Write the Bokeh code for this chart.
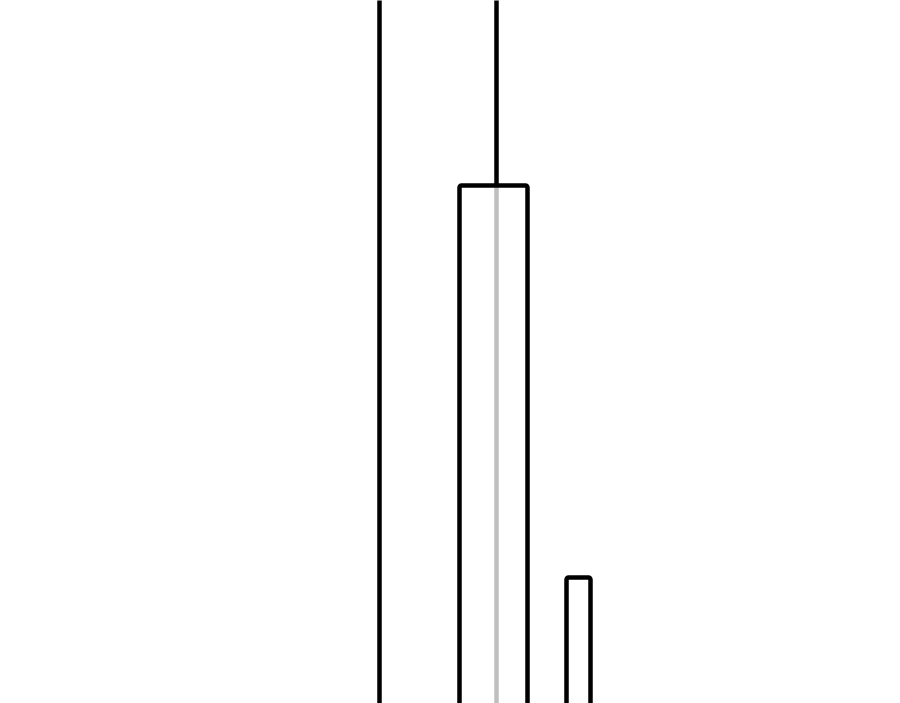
from bokeh.plotting import figure
from bokeh.models import Range1d
from bokeh.embed import file_html
from bokeh.resources import INLINE

# Data (plot units)
wick_x = [379, 496]
wick_low = [-60, -60]
wick_high = [780, 780]

box_left = [459, 566]
box_right = [527, 590]
box_top = [518, 126]
box_bottom = [-60, -60]

p = figure(width=900, height=703, output_backend="svg", toolbar_location=None,
           x_range=Range1d(0, 900), y_range=Range1d(0, 703),
           min_border=0)
p.axis.visible = False
p.grid.visible = False
p.outline_line_color = None
p.background_fill_color = "white"
p.border_fill_color = "white"

p.segment(x0=wick_x, y0=wick_low, x1=wick_x, y1=wick_high,
          line_color="black", line_width=4.5)
p.quad(left=box_left, right=box_right, top=box_top, bottom=box_bottom,
       fill_color="white", fill_alpha=0.75, line_color="black",
       line_width=4.5, line_join="round", border_radius=2)

open("out.html", "w").write(file_html(p, INLINE))
